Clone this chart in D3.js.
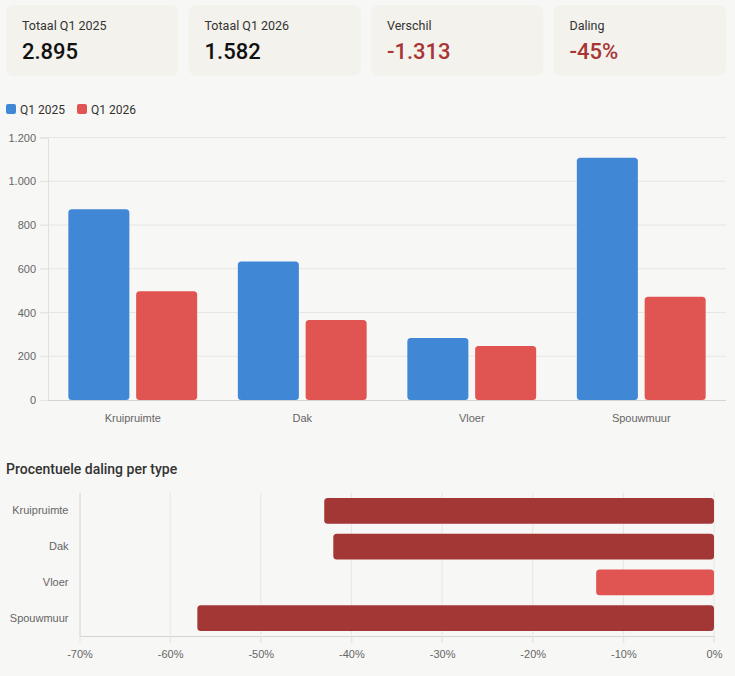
<!DOCTYPE html>
<html>
<head>
<meta charset="utf-8">
<script src="https://cdn.jsdelivr.net/npm/d3@7"></script>
<style>
  body { margin: 0; background: #f7f7f5; }
  svg { display: block; }
  .axis text { font-family: "Liberation Sans", Arial, sans-serif; font-size: 11px; fill: #666; }
  .ui { font-family: Roboto, "Noto Sans", sans-serif; }
</style>
</head>
<body>
<svg id="chart"></svg>
<script>
(function(){

// data
var categories = ["Kruipruimte", "Dak", "Vloer", "Spouwmuur"];
var seriesNames = ["Q1 2025", "Q1 2026"];
var q2025 = [872, 633, 283, 1107];
var q2026 = [497, 366, 247, 472];
var pctChange = [-43, -42, -13, -57];
var cardLabels = ["Totaal Q1 2025", "Totaal Q1 2026", "Verschil", "Daling"];
var cardValues = ["2.895", "1.582", "-1.313", "-45%"];
var yTicks = [0, 200, 400, 600, 800, 1000, 1200];
var pctTicks = [-70, -60, -50, -40, -30, -20, -10, 0];

var W = 735, H = 676;
var blue = "#4087d6", red = "#e05552", darkRed = "#a33736";

var nl = d3.formatLocale({decimal: ",", thousands: ".", grouping: [3], currency: ["€", ""]});
var fmt = nl.format(",d");

var svg = d3.select("#chart").attr("width", W).attr("height", H);

// ---- KPI cards
var cardX = d3.scaleBand().domain(d3.range(4)).range([6, 726]).paddingInner(0.055);
var cards = svg.append("g").selectAll("g")
  .data(cardLabels)
  .enter().append("g")
  .attr("transform", function(d, i){ return "translate(" + cardX(i) + ",5)"; });
cards.append("rect")
  .attr("width", cardX.bandwidth())
  .attr("height", 71)
  .attr("rx", 8)
  .style("fill", "#f3f2ec");
cards.append("text")
  .attr("class", "ui")
  .attr("x", 16).attr("y", 24.5)
  .style("font-size", "12.5px")
  .style("fill", "#333")
  .text(function(d){ return d; });
cards.append("text")
  .attr("class", "ui")
  .attr("x", 16).attr("y", 54)
  .style("font-size", "22px")
  .style("font-weight", 500)
  .style("fill", function(d, i){ return cardValues[i].charAt(0) === "-" ? "#a83434" : "#111"; })
  .text(function(d, i){ return cardValues[i]; });

// ---- legend
var legend = svg.append("g").selectAll("g")
  .data(seriesNames)
  .enter().append("g")
  .attr("transform", function(d, i){ return "translate(" + (6 + i * 71) + ",104)"; });
legend.append("rect")
  .attr("width", 10).attr("height", 10).attr("rx", 2)
  .style("fill", function(d, i){ return i ? red : blue; });
legend.append("text")
  .attr("class", "ui")
  .attr("x", 14).attr("y", 9.5)
  .style("font-size", "12px")
  .style("fill", "#333")
  .text(function(d){ return d; });

// ---- grouped bar chart
var x0 = d3.scaleBand().domain(categories).range([48, 726]);
var x1 = d3.scaleBand().domain(seriesNames)
  .range([x0.bandwidth() * 0.1, x0.bandwidth() * 0.9]);
var y = d3.scaleLinear().domain([0, 1200]).range([400, 137.5]);

var grid = svg.append("g");
grid.selectAll("line")
  .data(yTicks.slice(1))
  .enter().append("line")
  .attr("x1", 40).attr("x2", 726)
  .attr("y1", function(d){ return y(d); })
  .attr("y2", function(d){ return y(d); })
  .style("stroke", "#e6e6e4");

var yAxis = svg.append("g")
  .attr("class", "axis")
  .attr("transform", "translate(48,0)")
  .call(d3.axisLeft(y).tickValues(yTicks).tickFormat(fmt).tickSize(8).tickPadding(4));
yAxis.select(".domain").style("stroke", "#e0e0de");
yAxis.selectAll(".tick line").style("stroke", "#e6e6e4");

var xAxis = svg.append("g")
  .attr("class", "axis")
  .attr("transform", "translate(0,400)")
  .call(d3.axisBottom(x0).tickSize(0).tickPadding(14));
xAxis.select(".domain").attr("d", "M48,0.5H726").style("stroke", "#d4d4d2");

var groups = svg.append("g").selectAll("g")
  .data(categories)
  .enter().append("g")
  .attr("transform", function(d){ return "translate(" + x0(d) + ",0)"; });
groups.selectAll("rect")
  .data(function(d, i){ return [q2025[i], q2026[i]].map(function(v, j){ return {s: seriesNames[j], v: v}; }); })
  .enter().append("rect")
  .attr("x", function(d){ return x1(d.s) + x1.bandwidth() * 0.05; })
  .attr("width", x1.bandwidth() * 0.9)
  .attr("y", function(d){ return y(d.v); })
  .attr("height", function(d){ return y(0) - y(d.v); })
  .attr("rx", 3.5)
  .style("fill", function(d){ return d.s === seriesNames[0] ? blue : red; });

// ---- percentage chart
svg.append("text")
  .attr("class", "ui")
  .attr("x", 6).attr("y", 473.5)
  .style("font-size", "14px")
  .style("font-weight", 500)
  .style("fill", "#333")
  .text("Procentuele daling per type");

var px = d3.scaleLinear().domain([-70, 0]).range([79.5, 714]);
var py = d3.scaleBand().domain(categories).range([493, 636]);

svg.append("g").selectAll("line")
  .data(pctTicks.slice(1))
  .enter().append("line")
  .attr("x1", function(d){ return px(d); })
  .attr("x2", function(d){ return px(d); })
  .attr("y1", 493).attr("y2", 643)
  .style("stroke", "#e6e6e4");

var pxAxis = svg.append("g")
  .attr("class", "axis")
  .attr("transform", "translate(0,636)")
  .call(d3.axisBottom(px).tickValues(pctTicks).tickFormat(function(d){ return d + "%"; }).tickSize(7).tickPadding(7));
pxAxis.select(".domain").attr("d", "M79.5,0.5H714").style("stroke", "#d4d4d2");
pxAxis.selectAll(".tick line").style("stroke", "#e6e6e4");

var pyAxis = svg.append("g")
  .attr("class", "axis")
  .attr("transform", "translate(79.5,0)")
  .call(d3.axisLeft(py).tickSize(0).tickPadding(11));
pyAxis.select(".domain").attr("d", "M0.5,493V636").style("stroke", "#d4d4d2");

svg.append("g").selectAll("rect")
  .data(pctChange)
  .enter().append("rect")
  .attr("x", function(d){ return px(d); })
  .attr("width", function(d){ return px(0) - px(d); })
  .attr("y", function(d, i){ return py(categories[i]) + py.bandwidth() * 0.14; })
  .attr("height", py.bandwidth() * 0.72)
  .attr("rx", 3.5)
  .style("fill", function(d){ return d < -20 ? darkRed : red; });

})();
</script>
</body>
</html>
